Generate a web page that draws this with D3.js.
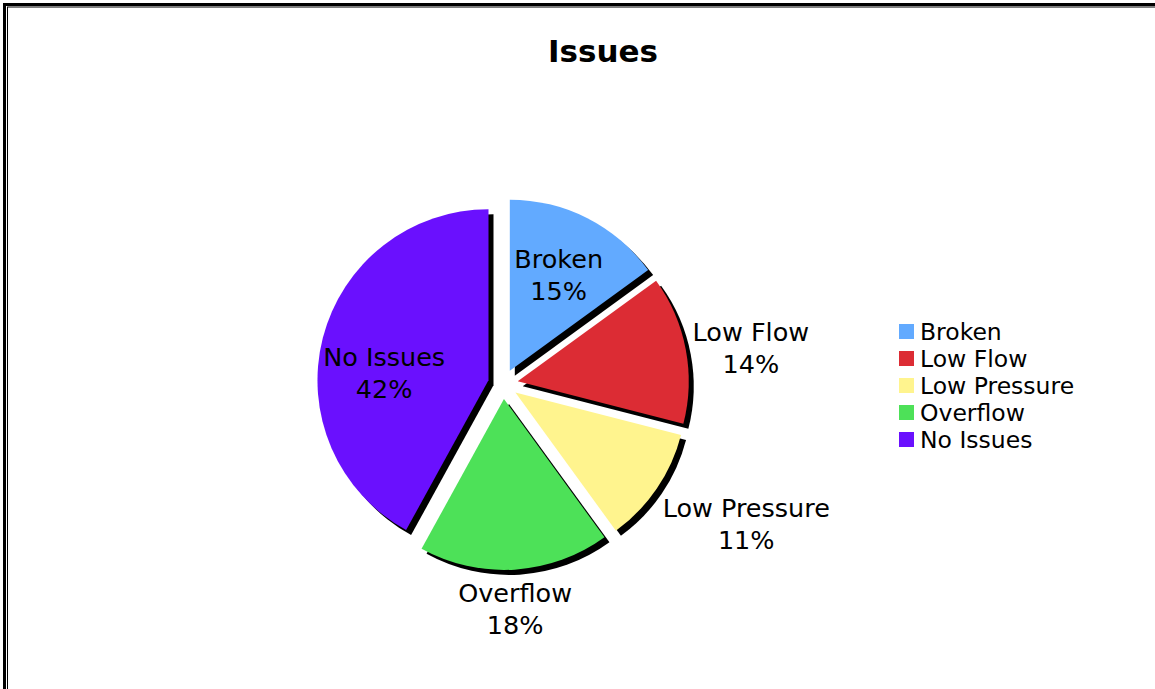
<!DOCTYPE html>
<html>
<head>
<meta charset="utf-8">
<script src="https://cdn.jsdelivr.net/npm/d3@7"></script>
<style>
  html, body { margin: 0; padding: 0; background: #fff; }
  svg { display: block; }
</style>
</head>
<body>
<svg id="chart" width="1155" height="689"></svg>
<script>
// ---- data ----
const categories = ["Broken", "Low Flow", "Low Pressure", "Overflow", "No Issues"];
const values = [15, 14, 11, 18, 42];
const sliceColors = ["#62aaff", "#dc2c34", "#fff48e", "#4de158", "#6a10fe"];
const chartTitle = "Issues";

// ---- layout ----
const W = 1155, H = 689;
const cx = 503, cy = 384, R = 171;
const explode = 15;
const shadowDx = 5, shadowDy = 5;
const labelFont = "'DejaVu Sans', Verdana, sans-serif";
const labelSize = 25.5, lineGap = 32;
const insideLabel = [true, false, false, false, true];
const insideNudgeY = [0, 0, 0, 0, 20];

const svg = d3.select("#chart");

// frame
svg.append("rect").attr("x", 4.5).attr("y", 4.5).attr("width", W + 20).attr("height", H + 20)
  .attr("fill", "none").attr("stroke", "#000").attr("stroke-width", 3);
svg.append("rect").attr("x", 7.5).attr("y", 7).attr("width", W + 20).attr("height", H + 20)
  .attr("fill", "none").attr("stroke", "#000").attr("stroke-width", 1);

// title
svg.append("text").attr("x", 603).attr("y", 62).attr("text-anchor", "middle")
  .style("font-family", labelFont).style("font-weight", "bold").style("font-size", "31px")
  .text(chartTitle);

const total = d3.sum(values);
const pie = d3.pie().sort(null).value(d => d.value).startAngle(0).endAngle(2 * Math.PI);
const arcs = pie(categories.map((c, i) => ({ name: c, value: values[i], color: sliceColors[i], i })));
const arc = d3.arc().innerRadius(0).outerRadius(R);

function offsetOf(a) {
  const m = (a.startAngle + a.endAngle) / 2;
  return [explode * Math.sin(m), -explode * Math.cos(m)];
}

const g = svg.append("g").attr("transform", `translate(${cx},${cy})`);

// shadows
g.selectAll("path.shadow").data(arcs).join("path").attr("class", "shadow")
  .attr("d", arc).attr("fill", "#000")
  .attr("transform", d => { const o = offsetOf(d); return `translate(${o[0] + shadowDx},${o[1] + shadowDy})`; });

// slices
g.selectAll("path.slice").data(arcs).join("path").attr("class", "slice")
  .attr("d", arc).attr("fill", d => d.data.color)
  .attr("transform", d => { const o = offsetOf(d); return `translate(${o[0]},${o[1]})`; });

// labels
arcs.forEach(a => {
  const i = a.data.i;
  const m = (a.startAngle + a.endAngle) / 2;
  const o = offsetOf(a);
  const s = Math.sin(m), c = Math.cos(m);
  const lines = [a.data.name, Math.round(a.data.value / total * 100) + "%"];
  const t = g.append("text").attr("text-anchor", "middle")
    .style("font-family", labelFont).style("font-size", labelSize + "px").attr("fill", "#000");
  const spans = lines.map(ln => t.append("tspan").attr("dominant-baseline", "central").text(ln));
  const w = d3.max(spans, sp => sp.node().getComputedTextLength());
  let x, y;
  if (insideLabel[i]) {
    const r = 0.63 * R;
    x = o[0] + r * s; y = o[1] - r * c + insideNudgeY[i];
  } else {
    const r = R + 7;
    const px = o[0] + r * s;
    const py = o[1] - r * c;
    const h = lineGap * 2;
    if (s > 0.3) x = px + w / 2; else if (s < -0.3) x = px - w / 2; else x = px;
    if (c < -0.3) y = py + h / 2; else if (c > 0.3) y = py - h / 2; else y = py;
  }
  spans.forEach((sp, k) => sp.attr("x", x).attr("y", y + (k - 0.5) * lineGap));
});

// legend
const lg = svg.append("g").attr("transform", "translate(899,324)");
categories.forEach((c, i) => {
  lg.append("rect").attr("x", 0).attr("y", i * 27).attr("width", 15).attr("height", 15)
    .attr("fill", sliceColors[i]);
  lg.append("text").attr("x", 21).attr("y", i * 27 + 7.5).attr("dominant-baseline", "central")
    .style("font-family", labelFont).style("font-size", "23.5px").text(c);
});
</script>
</body>
</html>
